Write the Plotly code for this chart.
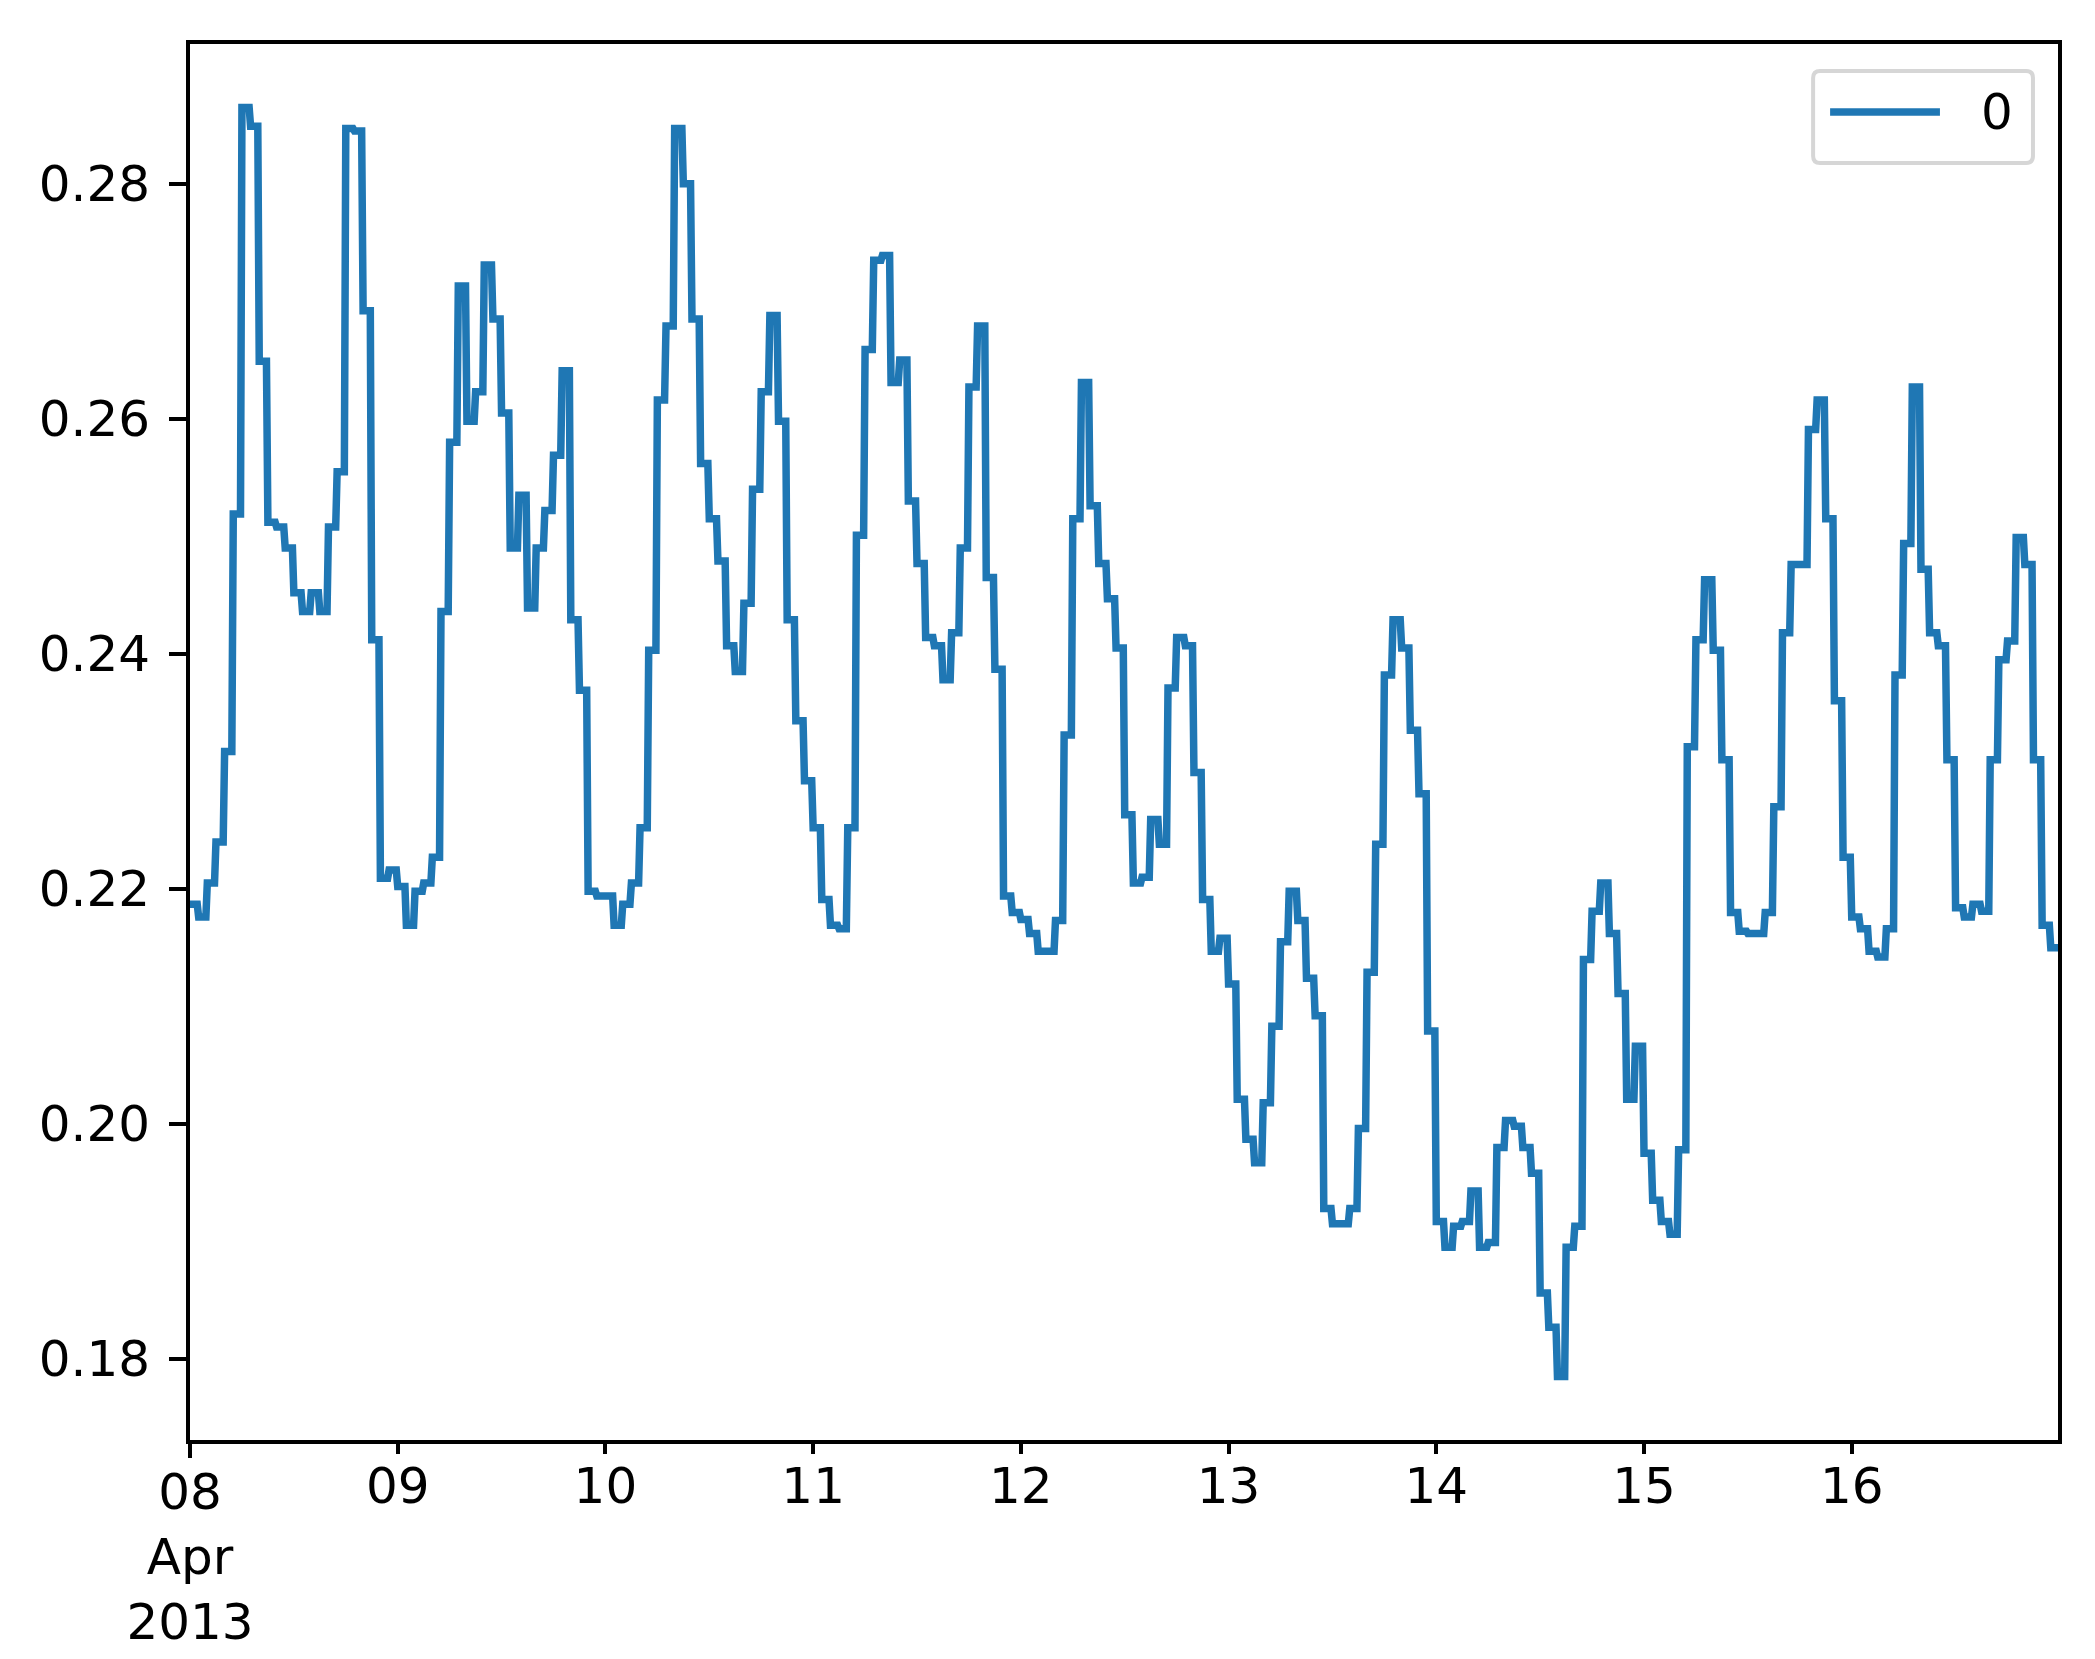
import numpy as np
import pandas as pd
import plotly.graph_objects as go

# hourly readings, one list per day; each value holds for the whole hour
apr08 = [0.2187, 0.2176, 0.2205, 0.2240, 0.2317, 0.2519, 0.2865, 0.2849, 0.2649, 0.2512, 0.2508, 0.2490,
         0.2452, 0.2436, 0.2452, 0.2436, 0.2508, 0.2555, 0.2847, 0.2845, 0.2692, 0.2412, 0.2209, 0.2216]
apr09 = [0.2202, 0.2169, 0.2198, 0.2205, 0.2227, 0.2436, 0.2580, 0.2713, 0.2598, 0.2623, 0.2731, 0.2685,
         0.2605, 0.2490, 0.2535, 0.2439, 0.2490, 0.2522, 0.2569, 0.2641, 0.2429, 0.2369, 0.2198, 0.2194]
apr10 = [0.2194, 0.2169, 0.2187, 0.2205, 0.2252, 0.2403, 0.2616, 0.2679, 0.2847, 0.2800, 0.2685, 0.2562,
         0.2515, 0.2479, 0.2407, 0.2385, 0.2443, 0.2540, 0.2623, 0.2688, 0.2598, 0.2429, 0.2343, 0.2292]
apr11 = [0.2252, 0.2191, 0.2169, 0.2166, 0.2252, 0.2501, 0.2659, 0.2735, 0.2739, 0.2631, 0.2650, 0.2530,
         0.2477, 0.2414, 0.2407, 0.2378, 0.2418, 0.2490, 0.2627, 0.2679, 0.2465, 0.2387, 0.2194, 0.2180]
apr12 = [0.2174, 0.2162, 0.2147, 0.2147, 0.2173, 0.2331, 0.2515, 0.2631, 0.2526, 0.2477, 0.2447, 0.2405,
         0.2263, 0.2205, 0.2210, 0.2259, 0.2238, 0.2371, 0.2414, 0.2407, 0.2299, 0.2191, 0.2147, 0.2158]
apr13 = [0.2119, 0.2021, 0.1987, 0.1967, 0.2018, 0.2083, 0.2155, 0.2198, 0.2173, 0.2124, 0.2092, 0.1928,
         0.1915, 0.1915, 0.1928, 0.1996, 0.2129, 0.2238, 0.2382, 0.2429, 0.2405, 0.2335, 0.2281, 0.2079]
apr14 = [0.1917, 0.1895, 0.1913, 0.1917, 0.1943, 0.1895, 0.1899, 0.1980, 0.2003, 0.1998, 0.1980, 0.1958,
         0.1856, 0.1827, 0.1785, 0.1895, 0.1913, 0.2140, 0.2181, 0.2205, 0.2162, 0.2111, 0.2021, 0.2066]
apr15 = [0.1975, 0.1935, 0.1917, 0.1906, 0.1978, 0.2321, 0.2412, 0.2463, 0.2403, 0.2310, 0.2180, 0.2164,
         0.2162, 0.2162, 0.2180, 0.2270, 0.2418, 0.2476, 0.2476, 0.2591, 0.2616, 0.2515, 0.2360, 0.2227]
apr16 = [0.2176, 0.2166, 0.2147, 0.2142, 0.2166, 0.2382, 0.2494, 0.2627, 0.2472, 0.2418, 0.2407, 0.2310,
         0.2184, 0.2176, 0.2187, 0.2181, 0.2310, 0.2395, 0.2411, 0.2499, 0.2476, 0.2310, 0.2169, 0.2150]

start = "2013-04-08"
samples_per_hour = 6  # 10 minute samples
y_ticks = [0.18, 0.20, 0.22, 0.24, 0.26, 0.28]

hourly = np.concatenate([apr08, apr09, apr10, apr11, apr12, apr13, apr14, apr15, apr16])
idx = pd.date_range(start, periods=len(hourly) * samples_per_hour, freq="10min")
series = pd.Series(np.repeat(hourly, samples_per_hour), index=idx)

days = pd.date_range(start, periods=9, freq="D")
lo, hi = series.min(), series.max()
pad = (hi - lo) * 0.05

FONT = "DejaVu Sans"
fig = go.Figure()

fig.add_trace(go.Scatter(
    x=series.index,
    y=series.values,
    mode="lines",
    name="0",
    line=dict(color="#1f77b4", width=7.5),
    showlegend=False,
))
# empty trace so the overlay axis (long major tick + "08 Apr 2013") gets drawn
fig.add_trace(go.Scatter(x=[], y=[], xaxis="x2", yaxis="y", showlegend=False, hoverinfo="skip"))

fig.update_layout(
    width=2095,
    height=1659,
    autosize=False,
    margin=dict(l=182, r=45, t=36, b=227),
    paper_bgcolor="white",
    plot_bgcolor="white",
    font=dict(family=FONT, size=50, color="black"),
    xaxis=dict(
        type="date",
        range=[idx[0], idx[-1]],
        tickvals=days[1:],
        ticktext=[d.strftime("%d") for d in days[1:]],
        ticks="outside", ticklen=10, tickwidth=4, tickcolor="black",
        showline=True, linewidth=4, linecolor="black", mirror=True,
        showgrid=False, zeroline=False,
        tickfont=dict(size=50),
        ticklabelstandoff=-11,
    ),
    xaxis2=dict(
        type="date",
        overlaying="x", anchor="y", side="bottom",
        range=[idx[0], idx[-1]],
        tickvals=[days[0]],
        ticktext=[days[0].strftime("%d<br>%b<br>%Y")],
        ticks="outside", ticklen=17, tickwidth=4, tickcolor="black",
        showline=False, showgrid=False, zeroline=False,
        tickfont=dict(size=50),
        ticklabelstandoff=-9,
    ),
    yaxis=dict(
        range=[lo - pad, hi + pad],
        tickvals=y_ticks,
        tickformat=".2f",
        ticks="outside", ticklen=17, tickwidth=4, tickcolor="black",
        showline=True, linewidth=4, linecolor="black", mirror=True,
        showgrid=False, zeroline=False,
        tickfont=dict(size=50),
        ticklabelstandoff=9,
    ),
)

# matplotlib style legend box (rounded frame, long line sample)
x0, x1, y0, y1 = 0.8689, 0.9866, 0.9148, 0.9807
rx, ry = 7 / 1868, 7 / 1396
path = (f"M {x0 + rx},{y0} L {x1 - rx},{y0} Q {x1},{y0} {x1},{y0 + ry} "
        f"L {x1},{y1 - ry} Q {x1},{y1} {x1 - rx},{y1} "
        f"L {x0 + rx},{y1} Q {x0},{y1} {x0},{y1 - ry} "
        f"L {x0},{y0 + ry} Q {x0},{y0} {x0 + rx},{y0} Z")
fig.add_shape(type="path", path=path, xref="paper", yref="paper",
              line=dict(color="#d6d6d6", width=4), fillcolor="rgba(255,255,255,0.8)")
fig.add_shape(type="line", xref="paper", yref="paper",
              x0=0.878, x1=0.9368, y0=0.9513, y1=0.9513,
              line=dict(color="#1f77b4", width=7.5))
fig.add_annotation(x=0.9673, y=0.9513, xref="paper", yref="paper",
                   text="0", showarrow=False, font=dict(family=FONT, size=50, color="black"),
                   xanchor="center", yanchor="middle")

fig.write_html("out.html")
